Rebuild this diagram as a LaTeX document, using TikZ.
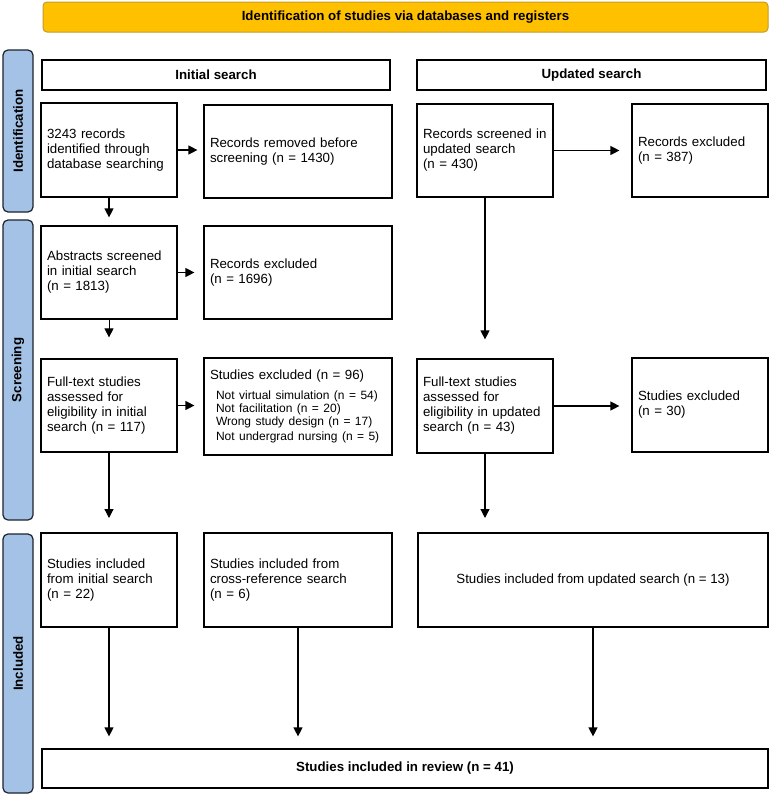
\documentclass[tikz,border=0pt]{standalone}
\usepackage{fontspec}
\setmainfont{Liberation Sans}
\usetikzlibrary{arrows.meta}
\definecolor{bannerfill}{RGB}{255,192,0}
\definecolor{bannerdraw}{RGB}{196,156,40}
\definecolor{sidefill}{RGB}{164,194,230}
\definecolor{sidedraw}{RGB}{30,35,45}
\begin{document}
\begin{tikzpicture}[x=1pt,y=-1pt,
  box/.style={draw=black, line width=1.2pt, fill=white, inner xsep=6pt, inner ysep=0pt,
    align=left, font=\fontsize{13.3}{15}\selectfont},
  cbox/.style={draw=black, line width=1.2pt, fill=white, inner sep=0pt,
    align=center, font=\fontsize{13.3}{15}\selectfont},
  hbox/.style={cbox, font=\fontsize{13.3}{15}\selectfont\bfseries},
  banner/.style={draw=bannerdraw, line width=1pt, fill=bannerfill, rounded corners=4pt,
    inner sep=0pt, font=\fontsize{13.3}{15}\selectfont\bfseries},
  side/.style={draw=sidedraw, line width=1.2pt, fill=sidefill, rounded corners=5pt,
    inner sep=0pt, rotate=90, font=\fontsize{13.3}{15}\selectfont\bfseries},
  arr/.style={-{Triangle[length=9pt,width=9pt]}, line width=1.2pt}]
\useasboundingbox[fill=white] (0,0) rectangle (769,803);

% banner and side labels
\node[banner, minimum width=725, minimum height=30] (ban) at (405.5,17) {Identification of studies via databases and registers};
\node[side, minimum width=162, minimum height=30] (s1) at (18,131) {Identification};
\node[side, minimum width=300, minimum height=30] (s2) at (18,370) {Screening};
\node[side, minimum width=259, minimum height=30] (s3) at (18,663.5) {Included};

% headers
\node[hbox, minimum width=348, minimum height=30] (h1) at (216,75) {Initial search};
\node[hbox, minimum width=349, minimum height=30] (h2) at (591.5,75) {Updated search};

% identification row
\node[box, text width=124, minimum height=94] (b1) at (109,150) {3243 records\\identified through\\database searching};
\node[box, text width=176, minimum height=93] (b2) at (298,151.5) {Records removed before\\screening (n = 1430)};
\node[box, text width=124, minimum height=93] (b3) at (485,150.5) {Records screened in\\updated search\\(n = 430)};
\node[box, text width=124, minimum height=93] (b4) at (700,150.5) {Records excluded\\(n = 387)};

% screening row 1
\node[box, text width=124, minimum height=93] (b5) at (109,272.5) {Abstracts screened\\in initial search\\(n = 1813)};
\node[box, text width=176, minimum height=93] (b6) at (298,272.5) {Records excluded\\(n = 1696)};

% screening row 2
\node[box, text width=124, minimum height=93] (b7) at (109,405.5) {Full-text studies\\assessed for\\eligibility in initial\\search (n = 117)};
\node[box, text width=176, minimum height=97] (b8) at (298,406.5) {Studies excluded (n = 96)\\[7pt]
  \fontsize{12}{13}\selectfont\hspace*{6pt}Not virtual simulation (n = 54)\\
  \hspace*{6pt}Not facilitation (n = 20)\\
  \hspace*{6pt}Wrong study design (n = 17)\\
  \hspace*{6pt}Not undergrad nursing (n = 5)};
\node[box, text width=124, minimum height=94] (b9) at (485,406) {Full-text studies\\assessed for\\eligibility in updated\\search (n = 43)};
\node[box, text width=124, minimum height=94] (b10) at (700,405) {Studies excluded\\(n = 30)};

% included row
\node[box, text width=124, minimum height=94] (b11) at (109,580) {Studies included\\from initial search\\(n = 22)};
\node[box, text width=176, minimum height=94] (b12) at (298,580) {Studies included from\\cross-reference search\\(n = 6)};
\node[cbox, minimum width=350, minimum height=94] (b13) at (593,580) {Studies included from updated search (n = 13)};
\node[hbox, minimum width=726, minimum height=39] (b14) at (405,768.5) {Studies included in review (n = 41)};

% free ends
\coordinate (c7) at (109,518);
\coordinate (c9) at (485,518);

% connectors
\draw[arr, shorten >=6pt] (b1.east) -- (b2.west |- b1.east);
\draw[arr, shorten >=8pt] (b1) -- (b5);
\draw[arr, shorten >=12pt] (b3.east) -- (b4.west |- b3.east);
\draw[arr, shorten >=19pt] (b3) -- (b9);
\draw[arr, shorten >=9pt] (b5.east) -- (b6.west |- b5.east);
\draw[arr, line width=0.8pt, shorten >=21pt] (b5) -- (b7);
\draw[arr, shorten >=9pt] (b7.east) -- (b8.west |- b7.east);
\draw[arr] (b7) -- (c7);
\draw[arr, shorten >=12pt] (b9.east) -- (b10.west |- b9.east);
\draw[arr] (b9) -- (c9);
\draw[arr, shorten >=12pt] (b11.south) -- (b11.south |- b14.north);
\draw[arr, shorten >=12pt] (b12.south) -- (b12.south |- b14.north);
\draw[arr, shorten >=12pt] (b13.south) -- (b13.south |- b14.north);
\end{tikzpicture}
\end{document}
